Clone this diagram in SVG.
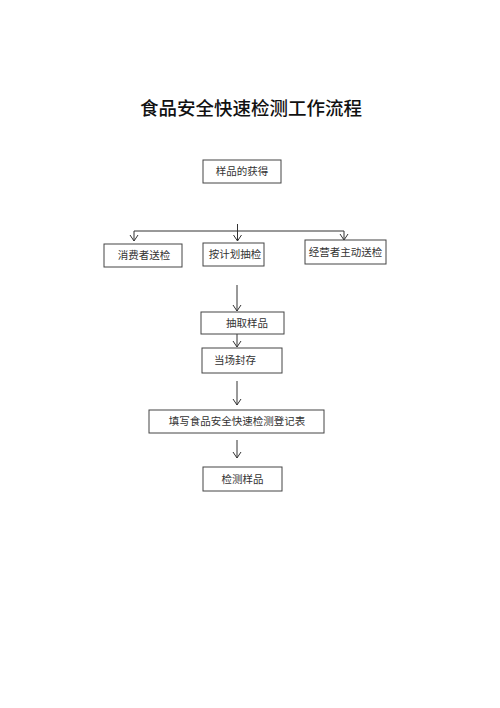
<svg xmlns="http://www.w3.org/2000/svg" width="500" height="708" viewBox="0 0 500 708">
<style>
.box{fill:#fff;stroke:#444;stroke-width:1}
.lbl{font-family:"Liberation Serif","Noto Sans CJK SC",serif;font-size:10.5px;fill:#333;text-anchor:middle;dominant-baseline:central}
.ttl{font-family:"Liberation Sans","Noto Sans CJK SC",sans-serif;font-size:18.5px;font-weight:500;fill:#111;text-anchor:middle}
.ln{fill:none;stroke:#333;stroke-width:1}
</style>
<defs>
<marker id="ah" markerWidth="10" markerHeight="10" refX="9" refY="5" orient="auto" markerUnits="userSpaceOnUse" viewBox="0 0 10 10">
<polyline points="3,1 9,5 3,9" fill="none" stroke="#333" stroke-width="1"/>
</marker>
</defs>
<rect width="500" height="708" fill="#fff"/>
<text class="ttl" x="251" y="115">食品安全快速检测工作流程</text>
<g id="connectors">
<path class="ln" d="M134,231 H344"/>
<path class="ln" d="M237.5,224 V241" marker-end="url(#ah)"/>
<path class="ln" d="M134,231 V241" marker-end="url(#ah)"/>
<path class="ln" d="M344,231 V240" marker-end="url(#ah)"/>
<path class="ln" d="M237,285 V311" marker-end="url(#ah)"/>
<path class="ln" d="M237,334 V347" marker-end="url(#ah)"/>
<path class="ln" d="M237,381 V405" marker-end="url(#ah)"/>
<path class="ln" d="M237,440 V458" marker-end="url(#ah)"/>
</g>
<g id="n1"><rect class="box" x="203" y="160" width="78" height="23"/><text class="lbl" x="242" y="171.5">样品的获得</text></g>
<g id="n2"><rect class="box" x="104" y="244" width="78" height="23"/><text class="lbl" x="144" y="255.5">消费者送检</text></g>
<g id="n3"><rect class="box" x="203" y="243" width="61" height="23"/><text class="lbl" x="235" y="254.5">按计划抽检</text></g>
<g id="n4"><rect class="box" x="305" y="240" width="81" height="24"/><text class="lbl" x="345.5" y="252">经营者主动送检</text></g>
<g id="n5"><rect class="box" x="201" y="312" width="83" height="22"/><text class="lbl" x="247" y="323">抽取样品</text></g>
<g id="n6"><rect class="box" x="202" y="348" width="80" height="25"/><text class="lbl" x="235" y="360.5">当场封存</text></g>
<g id="n7"><rect class="box" x="149" y="410" width="175" height="23"/><text class="lbl" x="237" y="421.5">填写食品安全快速检测登记表</text></g>
<g id="n8"><rect class="box" x="203" y="467" width="79" height="24"/><text class="lbl" x="242.5" y="479">检测样品</text></g>
</svg>
